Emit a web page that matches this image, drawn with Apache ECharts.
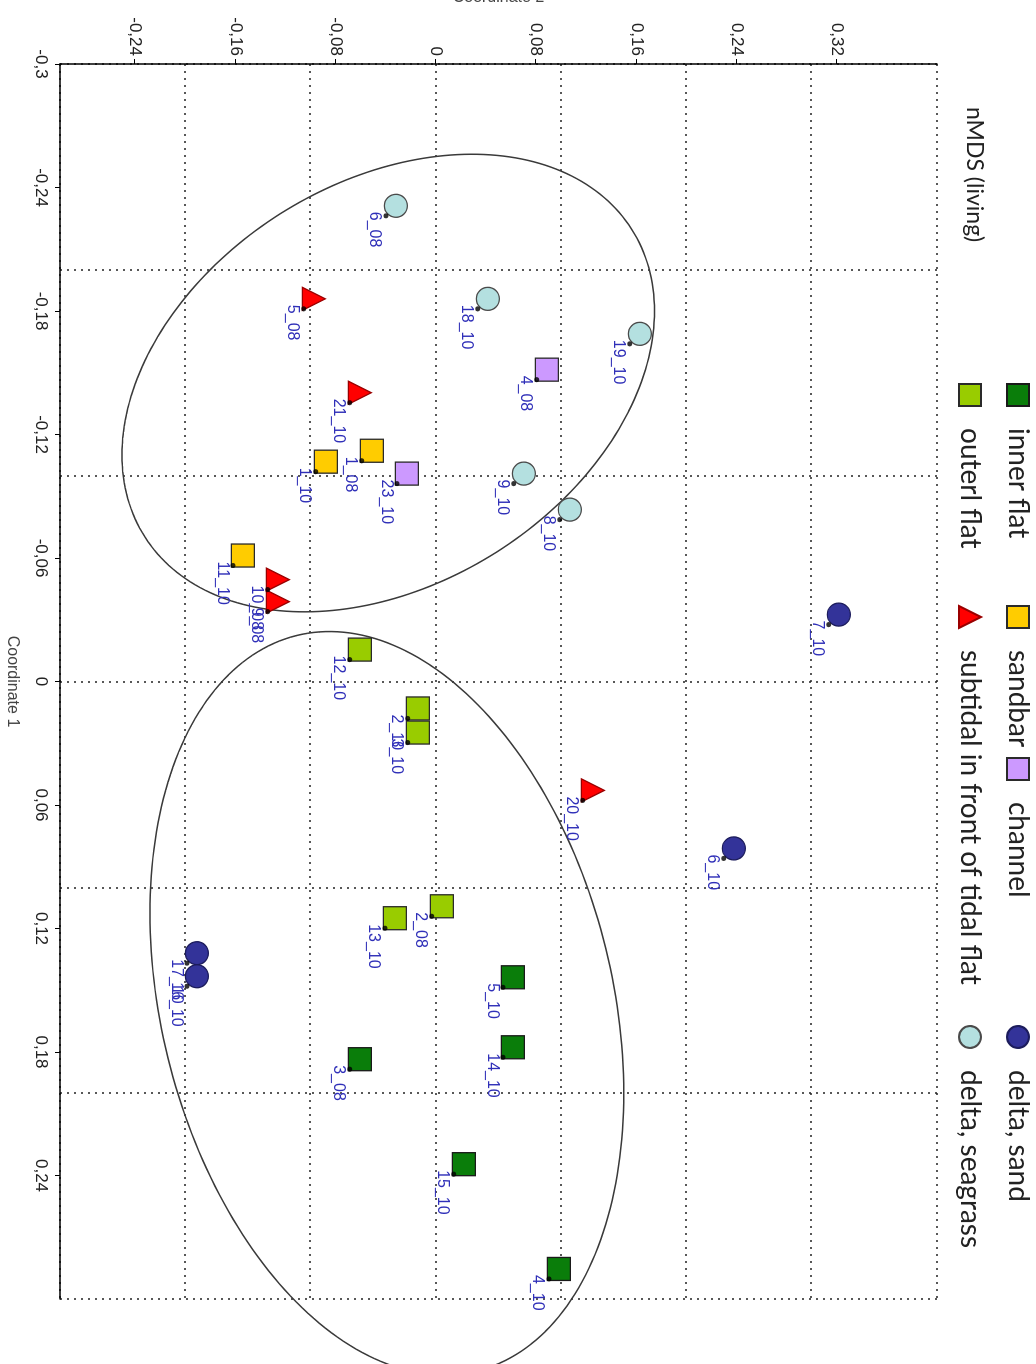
<!DOCTYPE html>
<html>
<head>
<meta charset="utf-8">
<script src="https://cdn.jsdelivr.net/npm/echarts@6/dist/echarts.min.js"></script>
<style>
  html, body { margin: 0; padding: 0; background: #fff; overflow: hidden; }
  #page { position: relative; width: 1036px; height: 1364px; overflow: hidden; }
  #chart { position: absolute; left: 0; top: 0; width: 1364px; height: 1036px;
           transform-origin: 0 0; transform: translate(1036px, 0) rotate(90deg); }
</style>
</head>
<body>
<div id="page"><div id="chart"></div></div>
<script>
// ---- data (Coordinate 1, Coordinate 2) ----
const innerFlatNames = ['5_10', '14_10', '3_08', '15_10', '4_10'];
const innerFlatC1 = [0.1437, 0.1777, 0.1835, 0.2345, 0.2854];
const innerFlatC2 = [0.0615, 0.0615, -0.0607, 0.0223, 0.0982];

const outerFlatNames = ['12_10', '2_10', '3_10', '2_08', '13_10'];
const outerFlatC1 = [-0.0155, 0.0131, 0.0248, 0.1092, 0.1150];
const outerFlatC2 = [-0.0607, -0.0144, -0.0144, 0.0048, -0.0327];

const sandbarNames = ['1_08', '1_10', '11_10'];
const sandbarC1 = [-0.1121, -0.1068, -0.0612];
const sandbarC2 = [-0.0511, -0.0878, -0.1540];

const channelNames = ['4_08', '23_10'];
const channelC1 = [-0.1515, -0.1010];
const channelC2 = [0.0886, -0.0231];

const subtidalNames = ['5_08', '21_10', '10_08', '9_08', '20_10'];
const subtidalC1 = [-0.1859, -0.1403, -0.0495, -0.0388, 0.0529];
const subtidalC2 = [-0.0974, -0.0607, -0.1261, -0.1261, 0.1253];

const deltaSandNames = ['7_10', '6_10', '17_10', '16_10'];
const deltaSandC1 = [-0.0325, 0.0811, 0.1320, 0.1432];
const deltaSandC2 = [0.3216, 0.2378, -0.1907, -0.1907];

const deltaSeagrassNames = ['6_08', '18_10', '19_10', '9_10', '8_10'];
const deltaSeagrassC1 = [-0.2311, -0.1859, -0.1689, -0.1010, -0.0835];
const deltaSeagrassC2 = [-0.0319, 0.0415, 0.1628, 0.0702, 0.1069];

// group ellipses: centre and two semi-axis vectors (Coord 1, Coord 2)
const ellipseCenters = [[-0.1450, -0.0380], [0.1563, -0.0391]];
const ellipseAxisU = [[-0.0350, 0.2125], [0.0437, 0.1891]];
const ellipseAxisV = [[-0.1055, 0.0], [0.1752, 0.0]];

// tick labels
const coord1Labels = [-0.3, -0.24, -0.18, -0.12, -0.06, 0, 0.06, 0.12, 0.18, 0.24];
const coord2Labels = [-0.24, -0.16, -0.08, 0, 0.08, 0.16, 0.24, 0.32];

// ---- chart ----
const fmt = v => String(Math.round(v * 100) / 100).replace('.', ',');
const mk = (names, a, b) => names.map((n, i) => ({ name: n, value: [a[i], b[i]] }));

const groups = [
  { name: 'inner flat', symbol: 'rect', color: '#0a7d0a', border: '#1a1a1a', d: mk(innerFlatNames, innerFlatC1, innerFlatC2) },
  { name: 'outerl flat', symbol: 'rect', color: '#99cc00', border: '#2a2a2a', d: mk(outerFlatNames, outerFlatC1, outerFlatC2) },
  { name: 'sandbar', symbol: 'rect', color: '#ffcc00', border: '#2a2a2a', d: mk(sandbarNames, sandbarC1, sandbarC2) },
  { name: 'channel', symbol: 'rect', color: '#cc99ff', border: '#2a2a2a', d: mk(channelNames, channelC1, channelC2) },
  { name: 'subtidal in front of tidal flat', symbol: 'triangle', color: '#ff0000', border: '#9a0000', d: mk(subtidalNames, subtidalC1, subtidalC2) },
  { name: 'delta, sand', symbol: 'circle', color: '#333399', border: '#1c1c5c', d: mk(deltaSandNames, deltaSandC1, deltaSandC2) },
  { name: 'delta, seagrass', symbol: 'circle', color: '#b4e0e0', border: '#4a4a4a', d: mk(deltaSeagrassNames, deltaSeagrassC1, deltaSeagrassC2) }
];

const labelStyle = {
  show: true, position: 'inside', align: 'left', verticalAlign: 'middle',
  offset: [6, 21], formatter: p => p.name, color: '#2f2fb8',
  fontFamily: 'Liberation Sans', fontSize: 16, textBorderWidth: 0
};

const series = [];
series.push({
  type: 'custom', coordinateSystem: 'cartesian2d', clip: false, silent: true, z: 1,
  data: ellipseCenters,
  renderItem: function (params, api) {
    const i = params.dataIndex;
    const c = [api.value(0), api.value(1)];
    const u = ellipseAxisU[i], w = ellipseAxisV[i];
    const pts = [];
    for (let k = 0; k < 240; k++) {
      const t = 2 * Math.PI * k / 240;
      pts.push(api.coord([c[0] + Math.cos(t) * u[0] + Math.sin(t) * w[0],
                          c[1] + Math.cos(t) * u[1] + Math.sin(t) * w[1]]));
    }
    return { type: 'polygon', shape: { points: pts }, style: { fill: 'none', stroke: '#3a3a3a', lineWidth: 1.5 } };
  }
});
groups.forEach(g => {
  series.push({
    type: 'scatter', name: g.name, symbol: g.symbol, symbolSize: 23, z: 3,
    itemStyle: { color: g.color, borderColor: g.border, borderWidth: 1.3, opacity: 1 },
    label: labelStyle,
    data: g.d
  });
});
series.push({
  type: 'scatter', name: 'dots', symbol: 'circle', symbolSize: 5, symbolOffset: [10, 10], z: 4, silent: true,
  itemStyle: { color: '#000' },
  data: groups.reduce((acc, g) => acc.concat(g.d.map(p => p.value)), [])
});

const legendSpots = [
  ['inner flat', 383, 20], ['sandbar', 605, 20], ['channel', 757, 20], ['delta, sand', 1025, 20],
  ['outerl flat', 383, 68], ['subtidal in front of tidal flat', 605, 68], ['delta, seagrass', 1025, 68]
];
const legends = legendSpots.map(s => ({
  data: [s[0]], left: s[1], top: s[2] - 16, padding: 0, selectedMode: false,
  itemWidth: 22, itemHeight: 22,
  textStyle: { fontFamily: 'Lato', fontSize: 28, color: '#222', padding: [0, 0, 0, 17] }
}));

const gridLine = { show: true, lineStyle: { color: '#222', type: [2, 5], width: 1.5 } };
const axisText = { fontFamily: 'Liberation Sans', fontSize: 17, color: '#222' };
const nameText = { fontFamily: 'Liberation Sans', fontSize: 16, color: '#444' };

const option = {
  animation: false,
  backgroundColor: '#fff',
  title: { text: 'nMDS (living)', left: 107, top: 50, padding: 0,
           textStyle: { fontFamily: 'Lato', fontSize: 23, fontWeight: 'normal', color: '#222' } },
  legend: legends,
  grid: { left: 64, right: 65, top: 99, bottom: 60, containLabel: false, outerBoundsMode: 'none' },
  xAxis: [{
    type: 'value', min: -0.3, max: 0.3, position: 'bottom',
    name: 'Coordinate 1', nameLocation: 'middle', nameGap: 40, nameTextStyle: nameText,
    axisLine: { show: true, onZero: false, lineStyle: { color: '#000', width: 1.5 } },
    axisTick: { show: true, length: 5, customValues: coord1Labels, lineStyle: { color: '#000' } },
    axisLabel: Object.assign({ customValues: coord1Labels, formatter: fmt, margin: 11 }, axisText),
    splitLine: { show: false }
  }, {
    type: 'value', min: -0.3, max: 0.3, interval: 0.1, position: 'bottom',
    axisLine: { show: false }, axisTick: { show: false }, axisLabel: { show: false },
    splitLine: gridLine
  }],
  yAxis: [{
    type: 'value', min: -0.3, max: 0.4, position: 'left',
    name: 'Coordinate 2', nameLocation: 'middle', nameGap: 58, nameTextStyle: nameText,
    axisLine: { show: true, onZero: false, lineStyle: { color: '#000', width: 1.5 } },
    axisTick: { show: true, length: 5, customValues: coord2Labels, lineStyle: { color: '#000' } },
    axisLabel: Object.assign({ customValues: coord2Labels, formatter: fmt, margin: 8 }, axisText),
    splitLine: { show: false }
  }, {
    type: 'value', min: -0.3, max: 0.4, interval: 0.1, position: 'left',
    axisLine: { show: false }, axisTick: { show: false }, axisLabel: { show: false },
    splitLine: gridLine
  }],
  series: series
};

const chart = echarts.init(document.getElementById('chart'), null, { renderer: 'canvas', width: 1364, height: 1036 });
chart.setOption(option);
</script>
</body>
</html>
